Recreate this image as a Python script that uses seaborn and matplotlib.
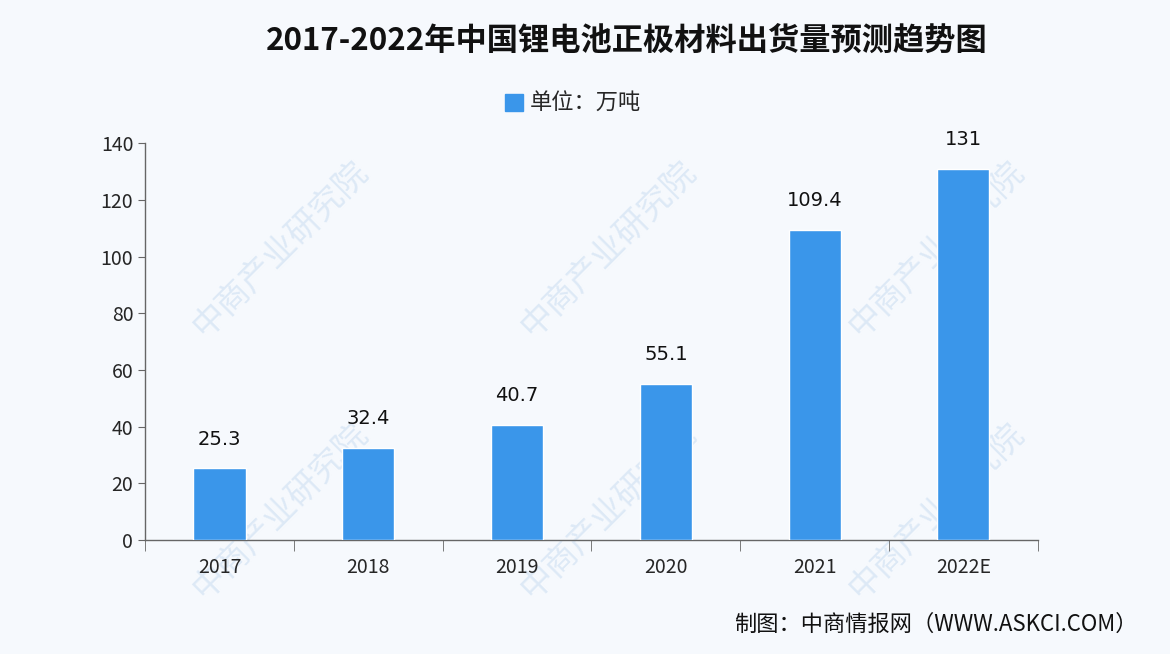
import pandas as pd
import seaborn as sns
import matplotlib.pyplot as plt
from matplotlib.patches import Patch

# data
years = ["2017", "2018", "2019", "2020", "2021", "2022E"]
shipments = [25.3, 32.4, 40.7, 55.1, 109.4, 131]
value_labels = ["25.3", "32.4", "40.7", "55.1", "109.4", "131"]

df = pd.DataFrame({"year": years, "shipment": shipments})

sns.set_style("white")
plt.rcParams['font.family'] = ['Noto Sans CJK SC', 'DejaVu Sans']

bg = "#f6f9fd"
bar_color = "#3a96ea"

fig = plt.figure(figsize=(11.7, 6.54), dpi=100, facecolor=bg)
ax = fig.add_axes([0.124, 0.174, 0.763, 0.607])
ax.set_facecolor("none")

# faint watermark behind the bars
for (wx, wy) in [(0.24, 0.62), (0.52, 0.62), (0.80, 0.62),
                 (0.24, 0.22), (0.52, 0.22), (0.80, 0.22)]:
    fig.text(wx, wy, "中商产业研究院", rotation=45, fontsize=24, color="#dde9f6",
             ha="center", va="center", zorder=-1)

sns.barplot(data=df, x="year", y="shipment", color=bar_color, width=0.35,
            saturation=1, ax=ax, zorder=3)

for i, v in enumerate(shipments):
    ax.text(i, v + 7, value_labels[i], ha="center", va="bottom", fontsize=14,
            color="#111111", family=['DejaVu Sans'])

ax.set_ylim(0, 140)
ax.set_xlim(-0.5, 5.5)
ax.set_yticks(range(0, 141, 20))
ax.set_xlabel("")
ax.set_ylabel("")
ax.tick_params(axis="y", labelsize=14, length=5, color="#666666", left=True)
ax.tick_params(axis="x", labelsize=14, length=0, pad=12)
ax.set_xticks([i + 0.5 for i in range(-1, 6)], minor=True)
ax.tick_params(axis="x", which="minor", length=8, color="#666666", bottom=True)
for s in ["top", "right"]:
    ax.spines[s].set_visible(False)
for s in ["left", "bottom"]:
    ax.spines[s].set_color("#666666")
    ax.spines[s].set_linewidth(1)

fig.text(0.536, 0.938, "2017-2022年中国锂电池正极材料出货量预测趋势图", ha="center",
         va="center", fontsize=22.5, fontweight="bold", color="#111111")

fig.legend(handles=[Patch(color=bar_color, label="单位：万吨")], loc="center",
           bbox_to_anchor=(0.49, 0.842), frameon=False, fontsize=16,
           handlelength=0.8, handleheight=0.8, handletextpad=0.3)

fig.text(0.972, 0.045, "制图：中商情报网（WWW.ASKCI.COM）", ha="right", va="center",
         fontsize=16, color="#111111")

fig.savefig("out.png", dpi=100, facecolor=bg)
